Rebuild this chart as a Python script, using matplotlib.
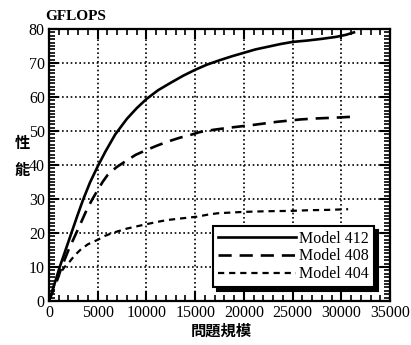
import matplotlib
matplotlib.use("Agg")
import matplotlib.pyplot as plt
from matplotlib.ticker import MultipleLocator

plt.rcParams['font.family'] = ['Liberation Serif', 'Noto Sans CJK TC']

# data
x412 = [0, 400, 1100, 1700, 2300, 2900, 3500, 4200, 5000, 5800, 6800, 8000,
        9000, 10000, 11200, 12500, 13800, 15000, 16200, 17500, 18800, 20000,
        21200, 22500, 23800, 25000, 26500, 28000, 29500, 30500, 31300]
y412 = [0, 3.5, 10, 15, 20, 25, 29.8, 34.8, 39.6, 44, 49, 53.6, 56.7, 59.4,
        62, 64.2, 66.3, 68, 69.5, 70.8, 72, 73, 74, 74.8, 75.6, 76.2, 76.6,
        77.1, 77.7, 78.3, 79]

x408 = [0, 700, 1300, 2000, 2800, 3400, 3900, 4500, 5000, 5500, 6000, 6900,
        7800, 8900, 10000, 11000, 12100, 13400, 14700, 15500, 17000, 18600,
        21000, 23400, 25800, 27500, 29200, 31200]
y408 = [0, 5, 10, 15, 20, 23.8, 27, 30.2, 32.6, 35, 37, 39.3, 41, 43, 44.4,
        45.6, 46.8, 48, 49, 49.7, 50.4, 51, 51.8, 52.7, 53.4, 53.7, 53.9, 54.2]

x404 = [0, 500, 1100, 1600, 2100, 2600, 3200, 4000, 5000, 5700, 6500, 8000,
        9700, 11000, 12100, 13600, 15200, 16300, 17300, 19900, 22300, 24800,
        26700, 28600, 30700]
y404 = [0, 4.5, 8, 10, 11.5, 13.3, 15, 16.7, 18, 19.1, 20, 21.3, 22.4, 23.2,
        23.8, 24.3, 24.8, 25.4, 25.8, 26.2, 26.4, 26.5, 26.7, 26.8, 27]

labels = ['Model 412', 'Model 408', 'Model 404']

fig = plt.figure(figsize=(4.11, 3.45), dpi=100)
ax = fig.add_axes([49/411, 1-301/345, 341/411, 272/345])

ax.plot(x412, y412, color='black', lw=1.9, label=labels[0])
ax.plot(x408, y408, color='black', lw=1.9, dashes=(5, 3), label=labels[1])
ax.plot(x404, y404, color='black', lw=1.6, dashes=(2.8, 2.2), label=labels[2])

ax.set_xlim(0, 35000)
ax.set_ylim(0, 80)
ax.xaxis.set_major_locator(MultipleLocator(5000))
ax.xaxis.set_minor_locator(MultipleLocator(1000))
ax.yaxis.set_major_locator(MultipleLocator(10))
ax.yaxis.set_minor_locator(MultipleLocator(1))
ax.tick_params(which='both', direction='in', top=True, right=True,
               labelsize=11.5, pad=3)
ax.tick_params(which='major', length=7, width=1.5)
ax.tick_params(which='minor', length=4, width=1.2)
for s in ax.spines.values():
    s.set_linewidth(1.6)
ax.grid(True, which='major', color='black', lw=1.2, linestyle=(0, (1, 1.6)))

leg = ax.legend(loc='lower right', bbox_to_anchor=(0.953, 0.051),
                borderaxespad=0, fontsize=11.5, frameon=True, fancybox=False,
                handlelength=4.9, handletextpad=0.2, labelspacing=0.12,
                borderpad=0.3,
                shadow={'ox': 3, 'oy': -3, 'facecolor': 'black',
                        'edgecolor': 'black', 'alpha': 1})
leg.get_frame().set_edgecolor('black')
leg.get_frame().set_linewidth(1.5)
leg.get_frame().set_alpha(1)

fig.text(76/411, 1-17/345, 'GFLOPS', fontsize=11, ha='center', va='center',
         weight='bold')
fig.text(22/411, 1-143/345, '性', fontsize=11, ha='center', va='center',
         family=['Noto Sans CJK TC'], weight='bold')
fig.text(22/411, 1-170/345, '能', fontsize=11, ha='center', va='center',
         family=['Noto Sans CJK TC'], weight='bold')
fig.text(221/411, 1-331/345, '問題規模', fontsize=11, ha='center', va='center',
         family=['Noto Sans CJK TC'], weight='bold')

fig.savefig('out.png', dpi=100)
